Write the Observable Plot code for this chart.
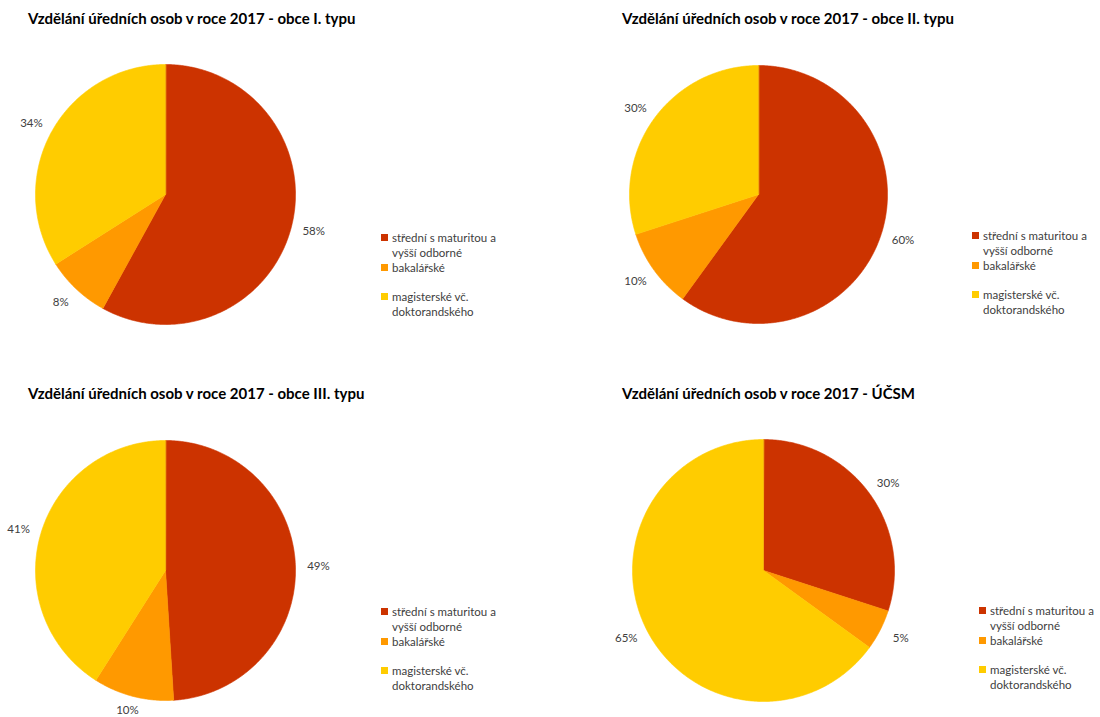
<!DOCTYPE html>
<html>
<head>
<meta charset="utf-8">
<script src="https://cdn.jsdelivr.net/npm/d3@7"></script>
<script src="https://cdn.jsdelivr.net/npm/@observablehq/plot@0.6"></script>
<style>
  html, body { margin: 0; padding: 0; background: #fff; }
  #page { position: relative; width: 1100px; height: 717px; overflow: hidden; font-family: Lato, "Open Sans", sans-serif; }
  .title { position: absolute; font-weight: bold; font-size: 15px; line-height: 18px; color: #000; white-space: nowrap; }
  .pie { position: absolute; }
  .legend { position: absolute; font-size: 11.5px; color: #404040; }
  .entry { position: relative; height: 29.5px; line-height: 15px; padding-left: 11px; white-space: nowrap; }
  .sw { position: absolute; left: 0; top: 4px; width: 7px; height: 7px; }
</style>
</head>
<body>
<div id="page"></div>
<script>
// ---- data ----
const categories = ["střední s maturitou a vyšší odborné", "bakalářské", "magisterské vč. doktorandského"];
const legendLines = [["střední s maturitou a", "vyšší odborné"], ["bakalářské"], ["magisterské vč.", "doktorandského"]];
const colors = ["#CC3300", "#FF9900", "#FFCC00"];
const titles = [
  "Vzdělání úředních osob v roce 2017 - obce I. typu",
  "Vzdělání úředních osob v roce 2017 - obce II. typu",
  "Vzdělání úředních osob v roce 2017 - obce III. typu",
  "Vzdělání úředních osob v roce 2017 - ÚČSM"
];
const valuesTypI = [58, 8, 34];
const valuesTypII = [60, 10, 30];
const valuesTypIII = [49, 10, 41];
const valuesUCSM = [30, 5, 65];
const seriesValues = [valuesTypI, valuesTypII, valuesTypIII, valuesUCSM];

// ---- layout (pixel placement of panels) ----
const PAGE_H = 717;
const layout = [
  {cx: 165, cy: 194, r: 130, tx: 28, ty: 9,   lx: 381, ly: 230},
  {cx: 758, cy: 194, r: 129, tx: 622, ty: 9,  lx: 972, ly: 228},
  {cx: 165, cy: 570, r: 130, tx: 28, ty: 384, lx: 381, ly: 604},
  {cx: 763, cy: 570, r: 131, tx: 622, ty: 384, lx: 979, ly: 603}
];
const W = 340, H = 320, OX = 165, OY = 154;

const page = document.getElementById("page");

seriesValues.forEach((vals, i) => {
  const L = layout[i];
  const t = document.createElement("div");
  t.className = "title";
  t.style.left = L.tx + "px";
  t.style.top = L.ty + "px";
  t.textContent = titles[i];
  page.appendChild(t);

  const total = d3.sum(vals);
  const pts = [];
  const labels = [];
  let acc = 0;
  vals.forEach((v, k) => {
    const a0 = acc / total * 2 * Math.PI;
    acc += v;
    const a1 = acc / total * 2 * Math.PI;
    const cat = categories[k];
    pts.push({cat, x: 0, y: 0});
    const n = Math.max(2, Math.ceil((a1 - a0) / (Math.PI / 360)));
    for (let j = 0; j <= n; j++) {
      const a = a0 + (a1 - a0) * j / n;
      pts.push({cat, x: L.r * Math.sin(a), y: L.r * Math.cos(a)});
    }
    const am = (a0 + a1) / 2;
    const lr = L.r + 12;
    const minY = -(PAGE_H - L.cy - 7);
    labels.push({cat, text: v + "%",
      x: lr * Math.sin(am) + 11 * Math.sin(am),
      y: Math.max(minY, lr * Math.cos(am) + 6 * Math.cos(am))});
  });

  const chart = Plot.plot({
    width: W, height: H,
    margin: 0,
    x: {domain: [-OX, W - OX], axis: null},
    y: {domain: [-(H - OY), OY], axis: null},
    color: {domain: categories, range: colors},
    marks: [
      Plot.line(pts, {x: "x", y: "y", z: "cat", fill: "cat", stroke: "cat", strokeWidth: 0.6, curve: "linear-closed"}),
      Plot.text(labels, {x: "x", y: "y", text: "text", fill: "#404040", fontSize: 11.5, fontFamily: "Lato, 'Open Sans', sans-serif"})
    ]
  });
  chart.classList.add("pie");
  chart.style.left = (L.cx - OX) + "px";
  chart.style.top = (L.cy - OY) + "px";
  page.appendChild(chart);

  const lg = document.createElement("div");
  lg.className = "legend";
  lg.style.left = L.lx + "px";
  lg.style.top = L.ly + "px";
  legendLines.forEach((lines, k) => {
    const e = document.createElement("div");
    e.className = "entry";
    const sw = document.createElement("span");
    sw.className = "sw";
    sw.style.background = colors[k];
    e.appendChild(sw);
    lines.forEach((ln, q) => {
      if (q > 0) e.appendChild(document.createElement("br"));
      e.appendChild(document.createTextNode(ln));
    });
    lg.appendChild(e);
  });
  page.appendChild(lg);
});
</script>
</body>
</html>
